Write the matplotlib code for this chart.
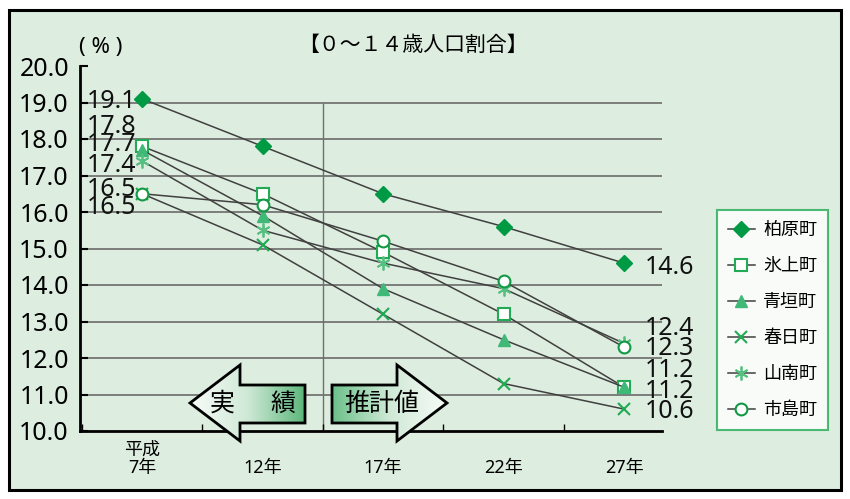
import matplotlib
matplotlib.use("Agg")
import matplotlib.pyplot as plt
import numpy as np
from matplotlib.patches import Polygon, Rectangle
from matplotlib.colors import LinearSegmentedColormap

plt.rcParams['font.family'] = ['Noto Sans', 'Noto Sans CJK JP', 'DejaVu Sans']

# ---- data ----
years = ["平成\n7年", "12年", "17年", "22年", "27年"]
towns = ["柏原町", "氷上町", "青垣町", "春日町", "山南町", "市島町"]
kaibara = [19.1, 17.8, 16.5, 15.6, 14.6]
hikami = [17.8, 16.5, 14.9, 13.2, 11.2]
aogaki = [17.7, 15.9, 13.9, 12.5, 11.2]
kasuga = [16.5, 15.1, 13.2, 11.3, 10.6]
sannan = [17.4, 15.5, 14.6, 13.9, 12.4]
ichijima = [16.5, 16.2, 15.2, 14.1, 12.3]
series = [kaibara, hikami, aogaki, kasuga, sannan, ichijima]
title = "【０～１４歳人口割合】"
unit = "( % )"

# ---- styles ----
styles = [
    dict(marker='D', ms=8.5, mfc='#009944', mec='#009944', mew=1),
    dict(marker='s', ms=8, mfc='white', mec='#22aa55', mew=1.5),
    dict(marker='^', ms=8.5, mfc='#40b878', mec='#40b878', mew=1),
    dict(marker='x', ms=8.5, mfc='#22aa55', mec='#22aa55', mew=1.5),
    dict(marker=(6, 2, 0), ms=10, mfc='#55c080', mec='#55c080', mew=1.3),
    dict(marker='o', ms=8.5, mfc='white', mec='#119944', mew=1.5),
]
# label offsets (points) at first and last point
left_off = [-2, 14, 4, -10, -3, 3]
right_off = [-3, 12, -3, -2, 11, -1]

W, H = 850, 499
fig = plt.figure(figsize=(W / 100, H / 100), dpi=100)
fig.patch.set_facecolor('white')
bg = '#ddeddf'
fig.patches.append(Rectangle((9 / W, 1 - 490 / H), 832 / W, 480 / H,
                             transform=fig.transFigure, facecolor=bg,
                             edgecolor='black', lw=2.2, zorder=-10))

ax = fig.add_axes([80 / W, 1 - 431 / H, (662 - 80) / W, (431 - 66) / H])
ax.patch.set_visible(False)
x = np.arange(len(years))
ax.set_xlim(-0.515, 4.315)
ax.set_ylim(10, 20)

for yv in np.arange(11, 20):
    ax.axhline(yv, color='#606060', lw=1.1, zorder=1)
ax.vlines(1.5, 10, 19, color='#707070', lw=1.0, zorder=1)

handles = []
for s, st, name in zip(series, styles, towns):
    ln, = ax.plot(x, s, color='#404040', lw=1.1, zorder=3, label=name,
                  marker=st['marker'], markersize=st['ms'],
                  markerfacecolor=st['mfc'], markeredgecolor=st['mec'],
                  markeredgewidth=st['mew'])
    handles.append(ln)

for i, s in enumerate(series):
    ax.annotate(f"{s[0]:.1f}", xy=(x[0], s[0]), xytext=(-4, left_off[i]),
                textcoords='offset points', ha='right', va='center',
                fontsize=18, color='#111111', zorder=4)
    ax.annotate(f"{s[-1]:.1f}", xy=(x[-1], s[-1]), xytext=(15, right_off[i]),
                textcoords='offset points', ha='left', va='center',
                fontsize=18, color='#111111', zorder=4,
                annotation_clip=False)

for sp in ['top', 'right']:
    ax.spines[sp].set_visible(False)
for sp in ['left', 'bottom']:
    ax.spines[sp].set_linewidth(2)
    ax.spines[sp].set_color('black')

ax.set_yticks(np.arange(10, 21, 1))
ax.set_yticklabels([f"{v:.1f}" for v in np.arange(10, 21, 1)])
ax.tick_params(axis='y', direction='in', length=6, width=1.5, pad=8,
               labelsize=18, colors='black')
ax.set_xticks(x)
ax.set_xticklabels(years, fontsize=13, linespacing=1.0)
ax.set_xticks(np.arange(-0.5, 4.0, 1), minor=True)
ax.tick_params(axis='x', which='major', length=0, pad=33)
for t in ax.get_xticklabels():
    t.set_va('bottom')
ax.tick_params(axis='x', which='minor', direction='in', length=5, width=1)

fig.text(413 / W, 1 - 45 / H, title, ha='center', va='center', fontsize=15,
         family=['Noto Sans CJK JP', 'DejaVu Sans'])
fig.text(101 / W, 1 - 47 / H, unit, ha='center', va='center', fontsize=16)

leg = ax.legend(handles=handles, loc='upper left',
                bbox_to_anchor=(717 / W, 1 - 210 / H),
                bbox_transform=fig.transFigure, frameon=True, fancybox=False,
                fontsize=13, handlelength=1.5, handletextpad=0.45,
                labelspacing=1.0, borderpad=0.6, borderaxespad=0,
                numpoints=1)
leg.get_frame().set_edgecolor('#22aa55')
leg.get_frame().set_linewidth(1.5)
leg.get_frame().set_facecolor('white')

# ---- arrows overlay ----
ov = fig.add_axes([0, 0, 1, 1], zorder=5)
ov.set_xlim(0, W)
ov.set_ylim(H, 0)
ov.axis('off')
ov.patch.set_alpha(0)

left_pts = [(190, 403), (240, 365), (240, 385), (305, 385), (305, 423),
            (240, 423), (240, 441)]
right_pts = [(332, 385), (397, 385), (397, 365), (447, 403), (397, 441),
             (397, 423), (332, 423)]
cmap_l = LinearSegmentedColormap.from_list('l', ['#f8fcf9', '#cfe9d6', '#5cb77b'])
cmap_r = LinearSegmentedColormap.from_list('r', ['#6cc08a', '#cfe9d6', '#f8fcf9'])
grad = np.linspace(0, 1, 256).reshape(1, -1)
for pts, cm in [(left_pts, cmap_l), (right_pts, cmap_r)]:
    xs = [p[0] for p in pts]
    ys = [p[1] for p in pts]
    clip = Polygon(pts, closed=True, facecolor='none', edgecolor='none',
                   transform=ov.transData)
    ov.add_patch(clip)
    im = ov.imshow(grad, cmap=cm, aspect='auto',
                   extent=(min(xs), max(xs), max(ys), min(ys)), zorder=5)
    im.set_clip_path(clip)
    ov.add_patch(Polygon(pts, closed=True, facecolor='none',
                         edgecolor='black', lw=2, joinstyle='miter', zorder=6))
ov.set_xlim(0, W)
ov.set_ylim(H, 0)
ov.text(222, 404, "実", ha='center', va='center', fontsize=18, zorder=7)
ov.text(283, 404, "績", ha='center', va='center', fontsize=18, zorder=7)
ov.text(382, 404, "推計値", ha='center', va='center', fontsize=18, zorder=7)

fig.savefig('out.png', dpi=100, facecolor='white')
